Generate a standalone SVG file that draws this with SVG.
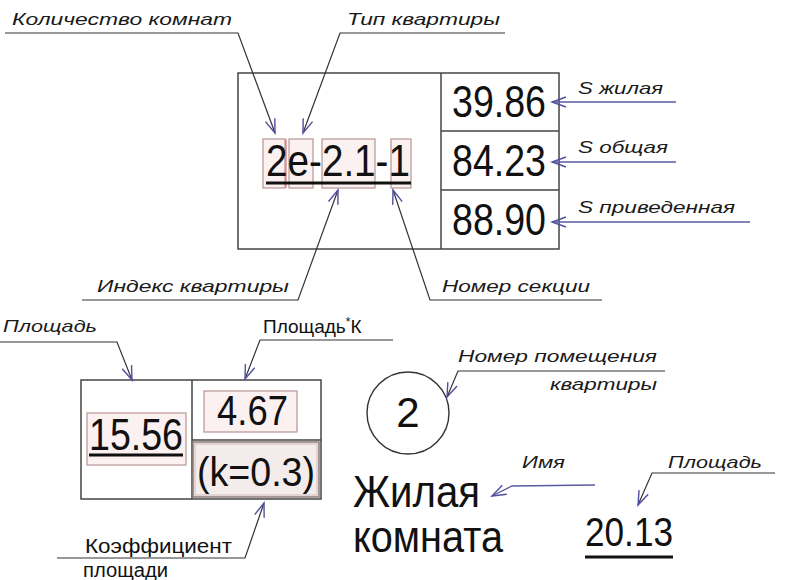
<svg xmlns="http://www.w3.org/2000/svg" width="800" height="580" viewBox="0 0 800 580">
  <style>
    .lbl { font-family: "Liberation Sans", Arial, sans-serif; font-style: italic; font-size: 17px; fill: #1a1a1a; }
    .reg { font-family: "Liberation Sans", Arial, sans-serif; fill: #111; }
    .big { font-family: "Liberation Sans", Arial, sans-serif; fill: #111; font-size: 45px; }
    .frame { fill: none; stroke: #444; stroke-width: 1.5; }
    .pink { fill: #fbf1f1; stroke: #b89494; stroke-width: 1.2; }
    .lead { fill: none; stroke: #333; stroke-width: 1.2; marker-end: url(#arr); }
    .leadb { fill: none; stroke: #5a5aa0; stroke-width: 1.3; marker-end: url(#arr); }
    .ul { stroke: #111; stroke-width: 3; }
  </style>
  <defs>
    <marker id="arr" markerUnits="userSpaceOnUse" viewBox="-16 -8 18 16" refX="0" refY="0" markerWidth="18" markerHeight="16" orient="auto">
      <path d="M-14,-5 L0,0 L-14,5" fill="none" stroke="#4f4fa0" stroke-width="1.4"/>
    </marker>
  </defs>
  <rect width="800" height="580" fill="#ffffff"/>

  <g id="apartment-tag">
    <rect class="frame" x="238" y="73" width="321" height="176"/>
    <line class="frame" x1="441" y1="73" x2="441" y2="249"/>
    <line class="frame" x1="441" y1="131" x2="559" y2="131"/>
    <line class="frame" x1="441" y1="190" x2="559" y2="190"/>
    <rect class="pink" x="263" y="139" width="22" height="49"/>
    <line x1="286" y1="139" x2="286" y2="188" stroke="#d88888" stroke-width="1.5"/>
    <rect class="pink" x="289" y="139" width="24" height="49"/>
    <rect class="pink" x="322" y="139" width="53" height="49"/>
    <rect class="pink" x="391" y="139" width="20" height="49"/>
    <text class="big" x="266" y="176" textLength="144" lengthAdjust="spacingAndGlyphs">2e-2.1-1</text>
    <line class="ul" x1="266" y1="183" x2="411" y2="183"/>
    <text class="big" x="452" y="117" textLength="94" lengthAdjust="spacingAndGlyphs">39.86</text>
    <text class="big" x="452" y="176" textLength="94" lengthAdjust="spacingAndGlyphs">84.23</text>
    <text class="big" x="452" y="235" textLength="94" lengthAdjust="spacingAndGlyphs">88.90</text>
  </g>

  <g id="labels-top">
    <text class="lbl" x="12" y="25" textLength="220" lengthAdjust="spacingAndGlyphs">Количество комнат</text>
    <text class="lbl" x="347" y="25" textLength="153" lengthAdjust="spacingAndGlyphs">Тип квартиры</text>
    <text class="lbl" x="97" y="292" textLength="192" lengthAdjust="spacingAndGlyphs">Индекс квартиры</text>
    <text class="lbl" x="442" y="292" textLength="148" lengthAdjust="spacingAndGlyphs">Номер секции</text>
    <text class="lbl" x="578" y="94" textLength="85" lengthAdjust="spacingAndGlyphs">S жилая</text>
    <text class="lbl" x="578" y="153" textLength="90" lengthAdjust="spacingAndGlyphs">S общая</text>
    <text class="lbl" x="578" y="213" textLength="157" lengthAdjust="spacingAndGlyphs">S приведенная</text>
  </g>

  <g id="room-area-tag">
    <rect class="frame" x="81" y="380" width="240" height="119"/>
    <line class="frame" x1="192" y1="380" x2="192" y2="499"/>
    <line class="frame" x1="192" y1="440" x2="321" y2="440"/>
    <rect class="pink" x="87" y="413" width="99" height="52"/>
    <text class="big" x="89" y="450" textLength="94" lengthAdjust="spacingAndGlyphs">15.56</text>
    <line class="ul" x1="89" y1="455" x2="183" y2="455"/>
    <rect class="pink" x="204" y="391" width="93" height="41"/>
    <text class="reg" x="217" y="425" font-size="42" textLength="71" lengthAdjust="spacingAndGlyphs">4.67</text>
    <rect x="193" y="442" width="126" height="55" fill="#f4ecea" stroke="#8c7a78" stroke-width="1.5"/>
    <rect x="195" y="444" width="122" height="51" fill="none" stroke="#c8b4b2" stroke-width="0.8"/>
    <text class="reg" x="197" y="486" font-size="40" textLength="118" lengthAdjust="spacingAndGlyphs">(k=0.3)</text>
  </g>

  <g id="labels-bottom-left">
    <text class="lbl" x="3" y="332" textLength="94" lengthAdjust="spacingAndGlyphs">Площадь</text>
    <text class="reg" x="263" y="333" font-size="19">Площадь<tspan font-size="12" dy="-7">*</tspan><tspan dy="7">К</tspan></text>
    <text class="reg" x="85" y="553" font-size="20" textLength="147" lengthAdjust="spacingAndGlyphs">Коэффициент</text>
    <text class="reg" x="83" y="577" font-size="20" textLength="85" lengthAdjust="spacingAndGlyphs">площади</text>
  </g>

  <g id="room-number">
    <circle cx="408" cy="413" r="41" fill="none" stroke="#333" stroke-width="1.4"/>
    <text class="reg" x="408" y="427" font-size="42" text-anchor="middle">2</text>
    <text class="lbl" x="458" y="362" textLength="199" lengthAdjust="spacingAndGlyphs">Номер помещения</text>
    <text class="lbl" x="657" y="390" text-anchor="end" textLength="107" lengthAdjust="spacingAndGlyphs">квартиры</text>
  </g>

  <g id="room-name">
    <text class="reg" x="353" y="507" font-size="44" textLength="127" lengthAdjust="spacingAndGlyphs">Жилая</text>
    <text class="reg" x="353" y="552" font-size="44" textLength="150" lengthAdjust="spacingAndGlyphs">комната</text>
    <text class="lbl" x="522" y="468" textLength="43" lengthAdjust="spacingAndGlyphs">Имя</text>
  </g>

  <g id="room-area">
    <text class="reg" x="585" y="546" font-size="40" textLength="88" lengthAdjust="spacingAndGlyphs">20.13</text>
    <line class="ul" x1="585" y1="557" x2="673" y2="557"/>
    <text class="lbl" x="668" y="468" textLength="94" lengthAdjust="spacingAndGlyphs">Площадь</text>
  </g>

  <g id="connectors">
    <polyline class="lead" points="5,33 238,33 275,133"/>
    <polyline class="lead" points="505,33 340,33 303,133"/>
    <polyline class="lead" points="82,300 298,300 338,190"/>
    <polyline class="lead" points="602,300 430,300 393,190"/>
    <polyline class="leadb" points="676,102 552,102"/>
    <polyline class="leadb" points="676,162 552,162"/>
    <polyline class="leadb" points="750,222 552,222"/>
    <polyline class="lead" points="0,342 117,342 132,380"/>
    <polyline class="lead" points="393,340 260,340 245,379"/>
    <polyline class="lead" points="57,558 245,558 264,503"/>
    <polyline class="lead" points="665,371 458,371 447,397"/>
    <polyline class="leadb" points="595,485 512,486 492,496"/>
    <polyline class="lead" points="775,473 652,473 638,505"/>
  </g>
</svg>
